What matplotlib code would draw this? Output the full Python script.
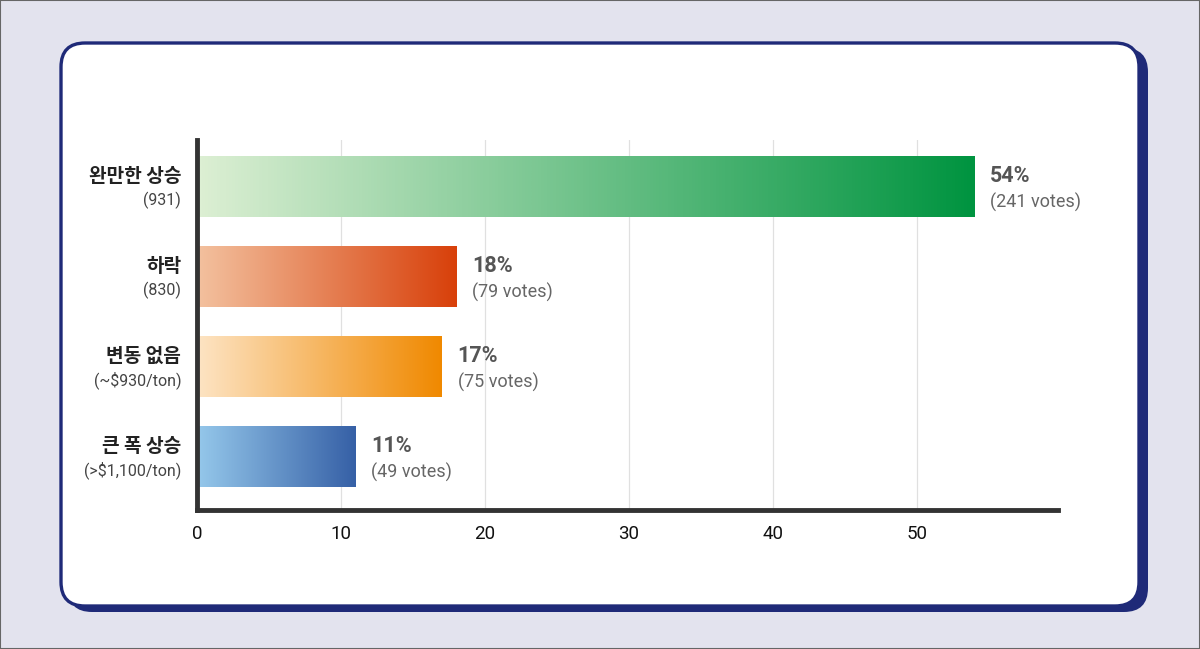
import matplotlib
matplotlib.use('Agg')
import matplotlib.pyplot as plt
from matplotlib.colors import LinearSegmentedColormap
from matplotlib.patches import FancyBboxPatch, Rectangle
import numpy as np

plt.rcParams['font.family'] = ['Roboto', 'Noto Sans CJK KR', 'DejaVu Sans']

# data
categories = ['완만한 상승', '하락', '변동 없음', '큰 폭 상승']
subtitles = ['(931)', '(830)', '(~$930/ton)', '(>$1,100/ton)']
percents = [54, 18, 17, 11]
votes = [241, 79, 75, 49]
gradients = [('#dcefd3', '#009440'), ('#f3c19f', '#d8400a'),
             ('#fde4c4', '#f08900'), ('#95c8eb', '#3660a6')]

W, H = 1200, 649
fig = plt.figure(figsize=(W / 100, H / 100), dpi=100)
fig.patch.set_facecolor('#e3e3ee')

# card with offset shadow
shadow = FancyBboxPatch((68, 37), 1080, 564, boxstyle='round,pad=0,rounding_size=24',
                        transform=None, facecolor='#1f2a78', edgecolor='none', zorder=-3)
card = FancyBboxPatch((61, 43), 1078, 563, boxstyle='round,pad=0,rounding_size=24',
                      transform=None, facecolor='white', edgecolor='#1f2a78',
                      linewidth=2.4, zorder=-2)
fig.patches.extend([shadow, card])
fig.patches.append(Rectangle((0, 0), 1, 1, transform=fig.transFigure, fill=False,
                             edgecolor='#666666', linewidth=1.5, zorder=-1))

ax = fig.add_axes([197 / W, 1 - 510 / H, (1058 - 197) / W, (510 - 140) / H])
ax.set_zorder(5)
ax.set_facecolor('none')

bar_h = 0.667
for i, (p, v, (c0, c1)) in enumerate(zip(percents, votes, gradients)):
    cmap = LinearSegmentedColormap.from_list(f'g{i}', [c0, c1])
    ax.imshow(np.linspace(0, 1, 256).reshape(1, -1), cmap=cmap, aspect='auto',
              extent=(0, p, i + bar_h / 2, i - bar_h / 2), zorder=2,
              interpolation='bicubic')
    ax.text(p + 1.1, i - 0.12, f'{p}%', fontsize=15.5, fontweight='bold',
            color='#555555', va='center', ha='left')
    ax.text(p + 1.1, i + 0.17, f'({v} votes)', fontsize=13,
            color='#666666', va='center', ha='left')
    ax.text(-1.1, i - 0.12, categories[i], fontsize=13.8, fontweight='bold',
            color='#222222', va='center', ha='right',
            family=['Noto Sans CJK KR', 'DejaVu Sans'])
    ax.text(-1.1, i + 0.15, subtitles[i], fontsize=11.5, color='#444444',
            va='center', ha='right')

ax.set_xlim(0, 59.8)
ax.set_ylim(3.59, -0.52)
ax.set_xticks([0, 10, 20, 30, 40, 50])
ax.set_yticks([])
ax.tick_params(axis='x', length=0, pad=11, labelsize=13.5, labelcolor='#111111')
ax.grid(axis='x', color='#e0e0e0', linewidth=0.9, zorder=0)
ax.set_axisbelow(True)
for s in ['top', 'right']:
    ax.spines[s].set_visible(False)
for s in ['left', 'bottom']:
    ax.spines[s].set_color('#333333')
    ax.spines[s].set_linewidth(3.5)
    ax.spines[s].set_capstyle('projecting')

fig.savefig('out.png', dpi=100, facecolor=fig.get_facecolor())
